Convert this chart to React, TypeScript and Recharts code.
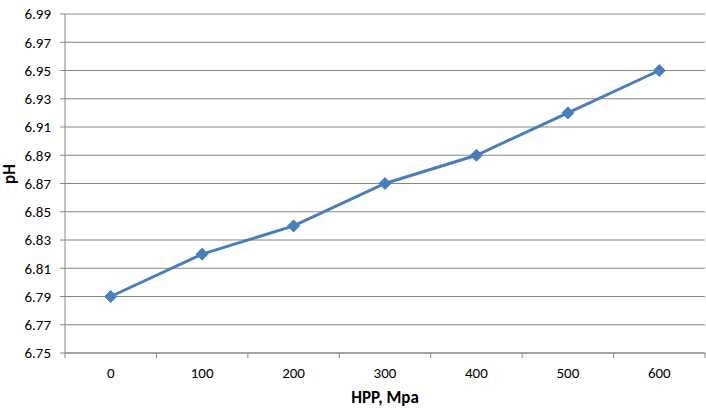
import React from 'react';
import { LineChart, Line, XAxis, YAxis, CartesianGrid } from 'recharts';

const categories = [0, 100, 200, 300, 400, 500, 600];
const phValues = [6.79, 6.82, 6.84, 6.87, 6.89, 6.92, 6.95];
const yTicks = [6.75, 6.77, 6.79, 6.81, 6.83, 6.85, 6.87, 6.89, 6.91, 6.93, 6.95, 6.97, 6.99];
const xBoundaries = [-50, 50, 150, 250, 350, 450, 550, 650];

const data = categories.map((c, i) => ({ hpp: c, ph: phValues[i] }));
const xTicks = [...xBoundaries, ...categories].sort((a, b) => a - b);

const FONT = 'Carlito, "Open Sans", "Liberation Sans", sans-serif';
const AXIS = '#868686';
const BLUE = '#4a7ebb';

const XTick = (props: any) => {
  const { x, payload } = props;
  const v = payload.value;
  if (xBoundaries.includes(v)) {
    return <line x1={x} y1={353} x2={x} y2={358} stroke={AXIS} strokeWidth={1} />;
  }
  return (
    <text x={x} y={378} textAnchor="middle" fontSize={15} fontFamily={FONT} fill="#000">
      {v}
    </text>
  );
};

const Diamond = (props: any) => {
  const { cx, cy } = props;
  if (cx == null || cy == null) return null;
  const r = 6;
  return (
    <polygon
      points={`${cx},${cy - r} ${cx + r},${cy} ${cx},${cy + r} ${cx - r},${cy}`}
      fill={BLUE}
      stroke={BLUE}
    />
  );
};

export default function App() {
  return (
    <div style={{ position: 'absolute', left: 0, top: 0, width: 706, height: 410, background: '#fff' }}>
      <LineChart width={706} height={410} data={data} margin={{ top: 14, right: 1, bottom: 0, left: 0 }}>
        <CartesianGrid vertical={false} stroke={AXIS} strokeWidth={1} />
        <XAxis
          dataKey="hpp"
          type="number"
          domain={[-50, 650]}
          ticks={xTicks}
          interval={0}
          tick={<XTick />}
          tickLine={false}
          axisLine={{ stroke: AXIS }}
          height={57}
          label={{
            content: (p: any) => {
              const vb = p.viewBox;
              return (
                <text x={vb.x + vb.width / 2} y={403} textAnchor="middle" fontSize={17} fontWeight="bold" fontFamily={FONT} fill="#000">
                  HPP, Mpa
                </text>
              );
            },
          }}
        />
        <YAxis
          type="number"
          domain={[6.75, 6.99]}
          ticks={yTicks}
          interval={0}
          width={65}
          tickFormatter={(v: number) => v.toFixed(2)}
          tick={{ fontSize: 15, fontFamily: FONT, fill: '#000' }}
          tickLine={{ stroke: AXIS }}
          tickSize={5}
          tickMargin={9}
          axisLine={{ stroke: AXIS }}
          label={{
            content: () => {
              const cy = 174;
              const cx = 15;
              return (
                <text x={cx} y={cy} transform={`rotate(-90 ${cx} ${cy})`} textAnchor="middle" fontSize={17} fontWeight="bold" fontFamily={FONT} fill="#000">
                  pH
                </text>
              );
            },
          }}
        />
        <Line
          type="linear"
          dataKey="ph"
          stroke={BLUE}
          strokeWidth={3}
          dot={<Diamond />}
          activeDot={false}
          isAnimationActive={false}
        />
      </LineChart>
    </div>
  );
}
